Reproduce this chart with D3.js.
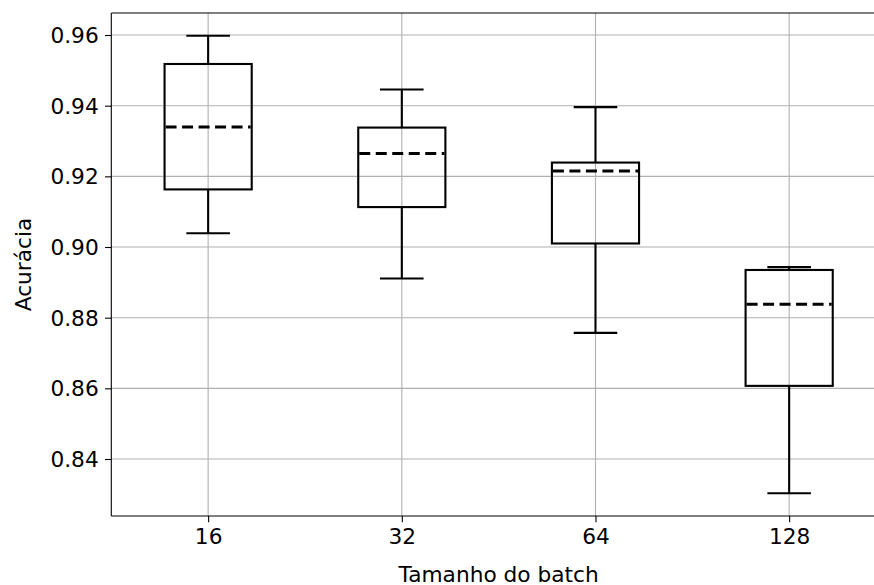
<!DOCTYPE html>
<html>
<head>
<meta charset="utf-8">
<script src="https://cdn.jsdelivr.net/npm/d3@7"></script>
<style>
  body { margin: 0; background: #fff; }
  svg { display: block; }
  text { font-family: "DejaVu Sans", sans-serif; fill: #000; }
</style>
</head>
<body>
<svg id="chart" width="874" height="585"></svg>
<script>
const categories = ["16", "32", "64", "128"];
const whiskerLow  = [0.9039, 0.8911, 0.8757, 0.8303];
const q1          = [0.9163, 0.9113, 0.9010, 0.8607];
const meanValues  = [0.9340, 0.9265, 0.9215, 0.8838];
const q3          = [0.9518, 0.9338, 0.9239, 0.8935];
const whiskerHigh = [0.9598, 0.9446, 0.9396, 0.8943];
const yTicks = [0.84, 0.86, 0.88, 0.90, 0.92, 0.94, 0.96];
const xLabel = "Tamanho do batch";
const yLabel = "Acurácia";

const svg = d3.select("#chart");
const mLeft = 111.3, mRight = 886, mTop = 13, mBottom = 516;

const x = d3.scaleLinear().domain([0.5, 4.5]).range([mLeft, mRight]);
const y = d3.scaleLinear().domain([0.82387, 0.96623]).range([mBottom, mTop]);

const fontSize = 21.7;
const boxW = 0.45, capW = 0.225;

// grid
const g = svg.append("g");
g.selectAll(".hgrid").data(yTicks).join("line")
  .attr("x1", mLeft).attr("x2", mRight)
  .attr("y1", d => y(d)).attr("y2", d => y(d))
  .attr("stroke", "#b0b0b0").attr("stroke-width", 1.1);
g.selectAll(".vgrid").data(categories).join("line")
  .attr("x1", (d, i) => x(i + 1)).attr("x2", (d, i) => x(i + 1))
  .attr("y1", mTop).attr("y2", mBottom)
  .attr("stroke", "#b0b0b0").attr("stroke-width", 1.1);

// boxes
const data = categories.map((c, i) => ({
  c, i, lo: whiskerLow[i], q1: q1[i], mean: meanValues[i], q3: q3[i], hi: whiskerHigh[i]
}));
const bg = svg.append("g").attr("stroke", "#000").attr("fill", "none");
data.forEach(d => {
  const cx = x(d.i + 1);
  const hw = x(d.i + 1 + boxW / 2) - cx;
  const cw = x(d.i + 1 + capW / 2) - cx;
  bg.append("line").attr("x1", cx).attr("x2", cx).attr("y1", y(d.q3)).attr("y2", y(d.hi)).attr("stroke-width", 2.1);
  bg.append("line").attr("x1", cx).attr("x2", cx).attr("y1", y(d.q1)).attr("y2", y(d.lo)).attr("stroke-width", 2.1);
  bg.append("line").attr("x1", cx - cw).attr("x2", cx + cw).attr("y1", y(d.hi)).attr("y2", y(d.hi)).attr("stroke-width", 2.1);
  bg.append("line").attr("x1", cx - cw).attr("x2", cx + cw).attr("y1", y(d.lo)).attr("y2", y(d.lo)).attr("stroke-width", 2.1);
  bg.append("rect").attr("x", cx - hw).attr("y", y(d.q3)).attr("width", 2 * hw)
    .attr("height", y(d.q1) - y(d.q3)).attr("stroke-width", 2.1).attr("fill", "none");
  bg.append("line").attr("x1", cx - hw + 1).attr("x2", cx + hw - 1).attr("y1", y(d.mean)).attr("y2", y(d.mean))
    .attr("stroke-width", 3).attr("stroke-dasharray", "11,5.5");
});

// spines
svg.append("line").attr("x1", mLeft).attr("x2", mLeft).attr("y1", mTop).attr("y2", mBottom).attr("stroke", "#000").attr("stroke-width", 1.1);
svg.append("line").attr("x1", mLeft).attr("x2", mRight).attr("y1", mTop).attr("y2", mTop).attr("stroke", "#000").attr("stroke-width", 1.1);
svg.append("line").attr("x1", mLeft).attr("x2", mRight).attr("y1", mBottom).attr("y2", mBottom).attr("stroke", "#000").attr("stroke-width", 1.1);

// axes
const yAxis = d3.axisLeft(y).tickValues(yTicks).tickFormat(d3.format(".2f")).tickSize(6.3).tickPadding(6.3);
const ya = svg.append("g").attr("transform", `translate(${mLeft},0)`).call(yAxis);
ya.select(".domain").remove();
ya.selectAll(".tick line").attr("stroke", "#000").attr("stroke-width", 1.1);
ya.selectAll(".tick text").attr("font-size", fontSize).attr("font-family", "DejaVu Sans").attr("dy", "0.35em");

const xAxis = d3.axisBottom(x).tickValues([1, 2, 3, 4]).tickFormat((d) => categories[d - 1]).tickSize(6.3).tickPadding(6.3);
const xa = svg.append("g").attr("transform", `translate(0,${mBottom})`).call(xAxis);
xa.select(".domain").remove();
xa.selectAll(".tick line").attr("stroke", "#000").attr("stroke-width", 1.1);
xa.selectAll(".tick text").attr("font-size", fontSize).attr("font-family", "DejaVu Sans").attr("dy", "0.71em");

// labels
svg.append("text").attr("x", (mLeft + mRight) / 2).attr("y", 582).attr("text-anchor", "middle")
  .attr("font-size", fontSize).text(xLabel);
svg.append("text").attr("transform", `translate(31,${(mTop + mBottom) / 2}) rotate(-90)`)
  .attr("text-anchor", "middle").attr("font-size", fontSize).text(yLabel);
</script>
</body>
</html>
